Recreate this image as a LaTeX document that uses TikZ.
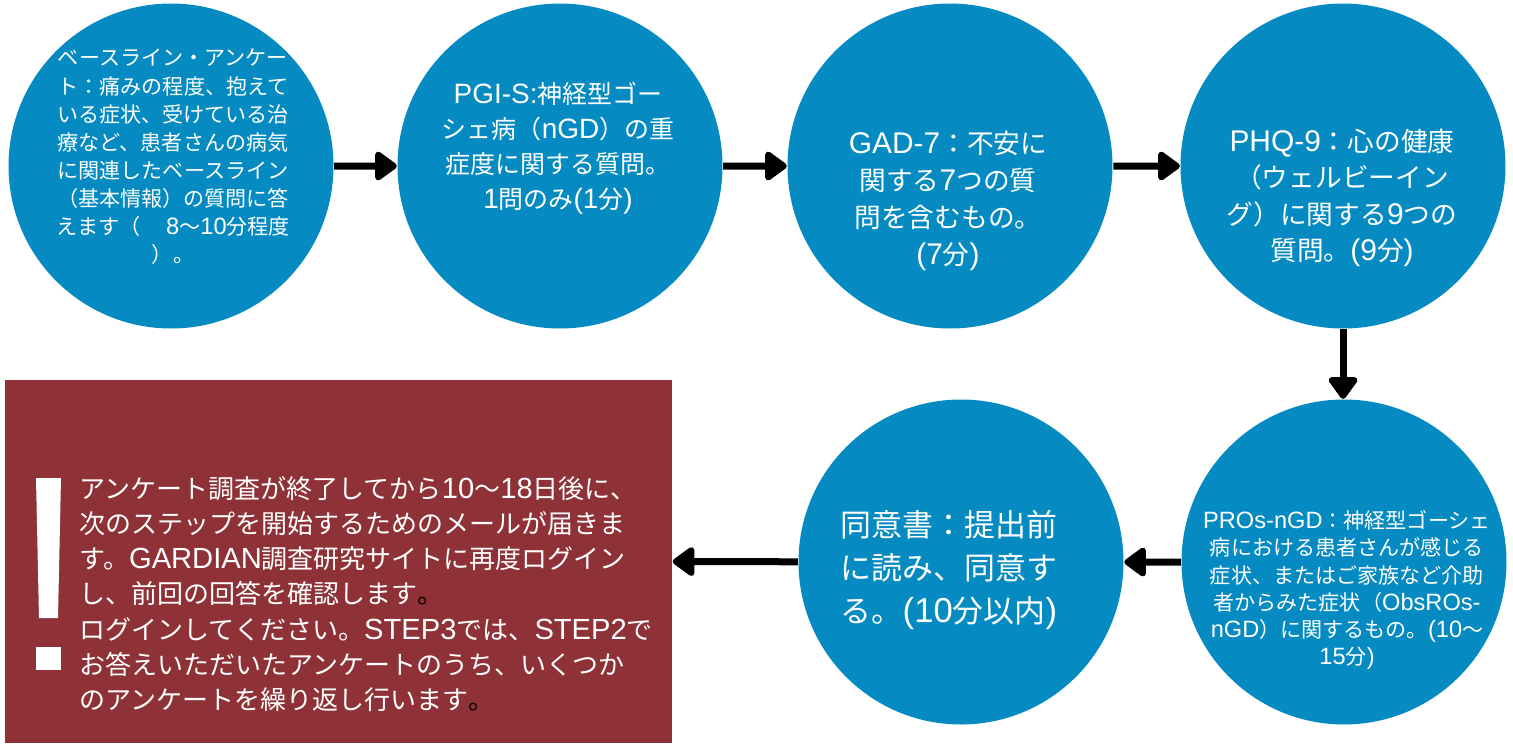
\documentclass[tikz,border=0pt]{standalone}
\usepackage{fontspec}
\setmainfont{Noto Sans CJK JP}
\newfontfamily\arialfont[Scale=1.12]{Liberation Sans}
\newcommand{\lat}[1]{{\arialfont #1}}
\usetikzlibrary{arrows.meta}
\definecolor{stepblue}{RGB}{5,139,193}
\definecolor{notered}{RGB}{142,50,55}

\begin{document}
\begin{tikzpicture}[scale=0.1,
  stepcircle/.style={circle,fill=stepblue,minimum size=32.5mm,inner sep=0pt},
  steptext/.style={text=white,align=center,inner sep=0pt},
  flow/.style={line width=0.7mm,-{Triangle[length=2.4mm,width=3.3mm,round]}}]
\useasboundingbox (0,0) rectangle (151.3,-74.3);
%top row
\node [stepcircle] (base) at (17.1,-16.6) {};
\node [steptext,font=\fontsize{6}{8}\selectfont] (basetext) at (17.3,-15.7)
  {ベースライン・アンケー\\ト：痛みの程度、抱えて\\いる症状、受けている治\\療など、患者さんの病気\\に関連したベースライン\\（基本情報）の質問に答\\えます（　 \lat{8}〜\lat{10}分程度\\）。};
\node [stepcircle] (pgis) at (56.0,-16.6) {};
\node [steptext,font=\fontsize{7.1}{10}\selectfont] (pgistext) at (55.8,-14.8)
  {\lat{PGI-S:}神経型ゴー\\シェ病（\lat{nGD}）の重\\症度に関する質問。\\\lat{1}問のみ\lat{(1}分\lat{)}};
\node [stepcircle] (gad) at (95.0,-16.6) {};
\node [steptext,font=\fontsize{7.6}{10.5}\selectfont] (gadtext) at (94.8,-20.1)
  {\lat{GAD-7}：不安に\\関する\lat{7}つの質\\問を含むもの。\\\lat{(7}分\lat{)}};
\node [stepcircle] (phq) at (134.3,-16.6) {};
\node [steptext,font=\fontsize{7.6}{10.4}\selectfont] (phqtext) at (134.2,-19.8)
  {\lat{PHQ-9}：心の健康\\（ウェルビーイン\\グ）に関する\lat{9}つの\\質問。\lat{(9}分\lat{)}};
%bottom row
\node [stepcircle] (pros) at (134.4,-56.2) {};
\node [steptext,font=\fontsize{6}{7.7}\selectfont] (prostext) at (134.7,-59.0)
  {\lat{PROs-nGD}：神経型ゴーシェ\\病における患者さんが感じる\\症状、またはご家族など介助\\者からみた症状（\lat{ObsROs-}\\\lat{nGD}）に関するもの。\lat{(10}〜\\\lat{15}分\lat{)}};
\node [stepcircle] (consent) at (96.1,-56.2) {};
\node [steptext,font=\fontsize{8.8}{12.2}\selectfont] (consenttext) at (94.9,-57.0)
  {同意書：提出前\\に読み、同意す\\る。\lat{(10}分以内\lat{)}};
%note box
\node [fill=notered,minimum width=66.7mm,minimum height=36.3mm,inner sep=0pt] (note) at (33.85,-56.15) {};
\fill [white] (3.6,-47.8) -- (6.1,-47.8) -- (5.8,-61.8) -- (3.9,-61.8) -- cycle;
\fill [white] (3.6,-64.7) rectangle (6.1,-67.0);
\node [steptext,align=left,anchor=west,font=\fontsize{7.4}{10}\selectfont] (notetext) at (7.9,-59.4)
  {アンケート調査が終了してから\lat{10}〜\lat{18}日後に、\\次のステップを開始するためのメールが届きま\\す。\lat{GARDIAN}調査研究サイトに再度ログイン\\し、前回の回答を確認します{\color{black}。}\\ログインしてください。\lat{STEP3}では、\lat{STEP2}で\\お答えいただいたアンケートのうち、いくつか\\のアンケートを繰り返し行います{\color{black}。}};
%arrows
\draw [flow] (base) -- (pgis);
\draw [flow] (pgis) -- (gad);
\draw [flow] (gad) -- (phq);
\draw [flow] (phq.south) -- (phq.south |- pros.north);
\draw [flow] (pros) -- (consent);
\draw [flow] (consent) -- (note.east);
\end{tikzpicture}
\end{document}
